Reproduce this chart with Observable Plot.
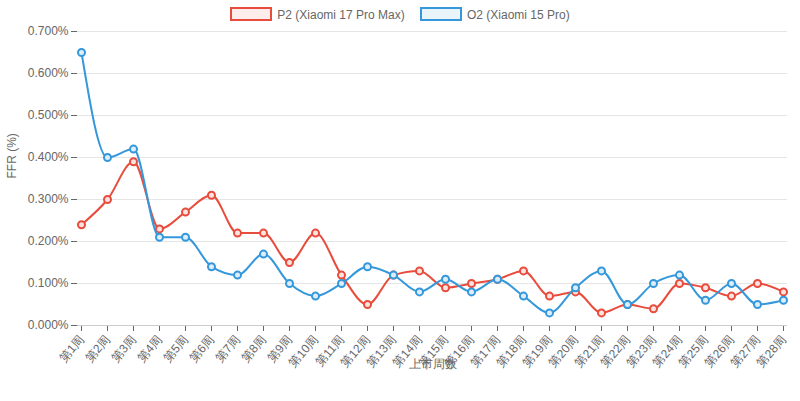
<!DOCTYPE html>
<html><head><meta charset="utf-8">
<script src="https://cdn.jsdelivr.net/npm/d3@7"></script>
<script src="https://cdn.jsdelivr.net/npm/@observablehq/plot@0.6"></script>
<style>
body{margin:0;background:#fff;font-family:"Liberation Sans",Arial,sans-serif;}
#wrap{position:relative;width:800px;height:401px;}
#legend{position:absolute;top:7px;left:0;width:800px;text-align:center;font-size:12px;color:#666;}
.it{display:inline-block;margin:0 6px;}
.sw{display:inline-block;width:38px;height:10px;vertical-align:-2px;margin-right:5px;border:2px solid;}
</style></head><body>
<div id="wrap"><div id="legend">
<span class="it"><span class="sw" style="border-color:#e74c3c;background:rgba(231,76,60,0.1)"></span>P2 (Xiaomi 17 Pro Max)</span>
<span class="it"><span class="sw" style="border-color:#3498db;background:rgba(52,152,219,0.1)"></span>O2 (Xiaomi 15 Pro)</span>
</div><div id="chart"></div></div>
<script>
const weeks = Array.from({length:28},(_,i)=>`第${i+1}周`);
const p2 = [0.0024,0.0030,0.0039,0.0023,0.0027,0.0031,0.0022,0.0022,0.0015,0.0022,0.0012,0.0005,0.0012,0.0013,0.0009,0.0010,0.0011,0.0013,0.0007,0.0008,0.0003,0.0005,0.0004,0.0010,0.0009,0.0007,0.0010,0.0008];
const o2 = [0.0065,0.0040,0.0042,0.0021,0.0021,0.0014,0.0012,0.0017,0.0010,0.0007,0.0010,0.0014,0.0012,0.0008,0.0011,0.0008,0.0011,0.0007,0.0003,0.0009,0.0013,0.0005,0.0010,0.0012,0.0006,0.0010,0.0005,0.0006];
const data = [
  ...weeks.map((w,i)=>({w,v:p2[i],s:"P2"})),
  ...weeks.map((w,i)=>({w,v:o2[i],s:"O2"}))
];
const colors = {P2:"#e74c3c",O2:"#3498db"};
const fills = {P2:"#fbe3e0",O2:"#ddeefa"};
const series = ["P2","O2"];
const marks = [
  Plot.gridY({ticks:d3.range(0,0.0071,0.001),stroke:"#e5e5e5",strokeOpacity:1}),
  Plot.axisY({ticks:d3.range(0,0.0071,0.001),tickFormat:d=>(d*100).toFixed(3)+"%",tickSize:6,fontSize:12,label:null,color:"#666"}),
  Plot.axisX({tickRotate:-50,fontSize:12,label:null,tickSize:6,color:"#666"}),
  Plot.ruleY([0],{stroke:"#ccc"}),
  Plot.text(["FFR (%)"],{frameAnchor:"left",dx:-65,rotate:-90,fontSize:12,fill:"#666"}),
  Plot.text(["上市周数"],{frameAnchor:"bottom",dy:42,fontSize:12,fill:"#666"})
];
for (const s of series){
  const d = data.filter(x=>x.s===s);
  marks.push(Plot.line(d,{x:"w",y:"v",stroke:colors[s],strokeWidth:2,curve:"monotone-x"}));
  marks.push(Plot.dot(d,{x:"w",y:"v",r:3.5,stroke:colors[s],strokeWidth:2,fill:fills[s]}));
}
const chart = Plot.plot({
  width:800,height:401,marginLeft:77,marginRight:13,marginTop:31,marginBottom:76,
  style:{fontFamily:"Liberation Sans, Arial, sans-serif",fontSize:"12px",color:"#666"},
  x:{type:"point",domain:weeks,padding:0},
  y:{domain:[0,0.007]},
  marks
});
document.getElementById("chart").appendChild(chart);
</script></body></html>
